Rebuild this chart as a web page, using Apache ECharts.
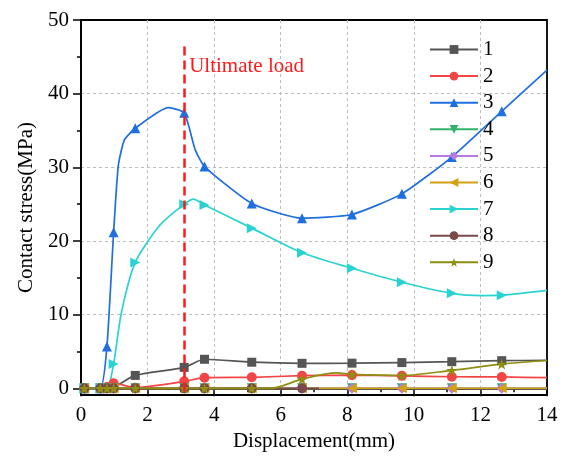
<!DOCTYPE html>
<html>
<head>
<meta charset="utf-8">
<script src="https://cdn.jsdelivr.net/npm/echarts@6/dist/echarts.min.js"></script>
<style>
  html, body { margin: 0; padding: 0; background: #fff; }
  #chart { width: 568px; height: 459px; }
</style>
</head>
<body>
<div id="chart"></div>
<script>
// series names and colours
var names = ['1', '2', '3', '4', '5', '6', '7', '8', '9'];
var colors = ['#555555', '#F24545', '#1F6FE0', '#33B06A', '#B57BE0', '#D4A014', '#2BD2D2', '#7A4A4A', '#8E8E10'];

// x positions that carry a marker (other points only shape the curve)
var markX = [0.1, 0.58, 0.78, 0.98, 1.63, 3.1, 3.71, 5.13, 6.64, 8.14, 9.64, 11.14, 12.64];

// contact stress (MPa) vs displacement (mm)
var s1 = [[0.1, 0], [0.58, 0], [0.78, 0], [0.98, 0.1], [1.63, 1.76], [3.1, 2.85], [3.71, 3.95], [5.13, 3.55], [6.64, 3.4], [8.14, 3.42], [9.64, 3.5], [11.14, 3.62], [12.64, 3.76], [14, 3.8]];
var s2 = [[0.1, 0], [0.58, 0], [0.78, 0.2], [0.98, 0.7], [1.63, 0.1], [3.1, 0.95], [3.71, 1.45], [5.13, 1.5], [6.64, 1.72], [8.14, 1.8], [9.64, 1.7], [11.14, 1.58], [12.64, 1.55], [14, 1.45]];
var s3 = [[0.1, 0], [0.58, 0], [0.78, 5.7], [0.98, 21.2], [1.12, 30.2], [1.3, 33.7], [1.63, 35.3], [2.62, 38.1], [3.1, 37.4], [3.43, 32.4], [3.71, 30.1], [5.13, 25.1], [6.64, 23.1], [8.14, 23.6], [9.64, 26.4], [11.14, 31.4], [12.64, 37.6], [14, 43.2]];
var s4 = [[0.1, 0], [0.58, 0], [0.78, 0], [0.98, 0], [1.63, 0], [3.1, 0], [3.71, 0], [5.13, 0], [6.64, 0], [8.14, 0], [9.64, 0], [11.14, 0], [12.64, 0], [14, 0]];
var s5 = [[0.1, 0], [0.58, 0], [0.78, 0], [0.98, 0], [1.63, 0], [3.1, 0], [3.71, 0], [5.13, 0], [6.64, 0], [8.14, 0], [9.64, 0], [11.14, 0], [12.64, 0], [14, 0]];
var s6 = [[0.1, 0], [0.58, 0], [0.78, 0], [0.98, 0], [1.63, 0], [3.1, 0], [3.71, 0], [5.13, 0], [6.64, 0], [8.14, 0], [9.64, 0], [11.14, 0], [12.64, 0], [14, 0]];
var s7 = [[0.1, 0], [0.58, 0], [0.78, 0], [0.98, 3.3], [1.21, 10.2], [1.63, 17.1], [2.38, 22.2], [3.1, 25.0], [3.38, 25.7], [3.71, 24.9], [5.13, 21.75], [6.64, 18.4], [8.14, 16.3], [9.64, 14.4], [11.14, 12.9], [12.08, 12.6], [12.64, 12.65], [14, 13.3]];
var s8 = [[0.1, 0], [0.58, 0], [0.78, 0], [0.98, 0], [1.63, 0], [3.1, 0], [3.71, 0], [5.13, 0], [6.64, 0], [7.15, 0]];
var s9 = [[0.1, 0], [0.58, 0], [0.78, 0], [0.98, 0], [1.63, 0], [3.1, 0], [3.71, 0], [5.13, 0], [5.7, 0], [6.64, 1.25], [7.68, 2.1], [8.14, 1.9], [9.64, 1.75], [11.14, 2.45], [12.64, 3.3], [14, 3.78]];

// axis ticks
var xTicks = [0, 2, 4, 6, 8, 10, 12, 14];
var yTicks = [0, 10, 20, 30, 40, 50];
var yMinor = [5, 15, 25, 35, 45];

// ultimate load marker
var ultX = 3.1;
var ultTop = 46.4;
var ultLabelY = 43.7;

var yMin = -0.9;
var font = 'Liberation Serif';
var star = 'path://M0,-10L2.35,-3.24L9.51,-3.09L3.8,1.24L5.88,8.09L0,4L-5.88,8.09L-3.8,1.24L-9.51,-3.09L-2.35,-3.24Z';

function makeSeries(i, pts, sym, rot, size, smooth) {
    return {
        name: names[i],
        type: 'line',
        smooth: smooth,
        symbol: sym,
        symbolRotate: rot || 0,
        symbolSize: size || 9,
        showAllSymbol: true,
        lineStyle: { width: 1.7, color: colors[i] },
        itemStyle: { color: colors[i] },
        data: pts.map(function (p) {
            return markX.indexOf(p[0]) >= 0 ? p : { value: p, symbol: 'none' };
        })
    };
}

var series = [
    makeSeries(0, s1, 'rect', 0, 9, 0.25),
    makeSeries(1, s2, 'circle', 0, 10, 0.2),
    makeSeries(2, s3, 'triangle', 0, 10, 0.18),
    makeSeries(3, s4, 'triangle', 180, 10, 0),
    makeSeries(4, s5, 'diamond', 0, 11, 0),
    makeSeries(5, s6, 'triangle', 90, 10, 0),
    makeSeries(6, s7, 'triangle', -90, 10, 0.25),
    makeSeries(7, s8, 'circle', 0, 10, 0),
    makeSeries(8, s9, star, 0, 11, 0.3)
];

// dashed ultimate-load line with its label
series.push({
    name: 'ult',
    type: 'line',
    data: [],
    markLine: {
        silent: true,
        symbol: 'none',
        label: { show: false },
        lineStyle: { color: '#FF1A1A', type: [9, 5], width: 2.5 },
        data: [[{ coord: [ultX, ultTop] }, { coord: [ultX, yMin] }]]
    },
    markPoint: {
        symbolSize: 0,
        label: {
            show: true, position: 'right', distance: 5,
            formatter: 'Ultimate load',
            color: '#FF1A1A', fontFamily: font, fontSize: 21
        },
        data: [{ coord: [ultX, ultLabelY] }]
    }
});

var chart = echarts.init(document.getElementById('chart'));

chart.setOption({
    animation: false,
    backgroundColor: '#fff',
    grid: {
        left: 81, right: 21, top: 20, bottom: 64,
        show: true, borderColor: '#000', borderWidth: 1.8
    },
    legend: {
        data: names,
        orient: 'vertical',
        left: 424, top: 34,
        itemWidth: 48, itemHeight: 11, itemGap: 5.6,
        textStyle: { fontFamily: font, fontSize: 21, color: '#000', lineHeight: 21 }
    },
    xAxis: {
        type: 'value',
        min: 0, max: 14, interval: 2,
        name: 'Displacement(mm)',
        nameLocation: 'middle', nameGap: 34,
        nameTextStyle: { fontFamily: font, fontSize: 21, color: '#000' },
        axisLine: { lineStyle: { color: '#000', width: 1.8 } },
        axisTick: { length: 8, lineStyle: { color: '#000', width: 1.5 } },
        minorTick: { show: true, splitNumber: 2, length: 4, lineStyle: { color: '#000', width: 1.5 } },
        axisLabel: { fontFamily: font, fontSize: 21, color: '#000', margin: 10, customValues: xTicks },
        splitLine: { show: true, showMinLine: false, showMaxLine: false, lineStyle: { color: '#BDBDBD', type: [3, 3], width: 1 } }
    },
    yAxis: [{
        type: 'value',
        min: yMin, max: 50,
        name: 'Contact stress(MPa)',
        nameLocation: 'middle', nameGap: 44,
        nameTextStyle: { fontFamily: font, fontSize: 21, color: '#000' },
        axisLine: { lineStyle: { color: '#000', width: 1.8 } },
        axisTick: { length: 8, customValues: yTicks, lineStyle: { color: '#000', width: 1.5 } },
        axisLabel: { fontFamily: font, fontSize: 21, color: '#000', margin: 12, customValues: yTicks },
        splitLine: { show: true, showMinLine: false, showMaxLine: false, lineStyle: { color: '#BDBDBD', type: [3, 3], width: 1 } }
    }, {
        type: 'value',
        position: 'left',
        min: yMin, max: 50,
        axisLine: { show: false },
        axisTick: { length: 4, customValues: yMinor, lineStyle: { color: '#000', width: 1.5 } },
        axisLabel: { show: false },
        splitLine: { show: false }
    }],
    series: series
});
</script>
</body>
</html>
